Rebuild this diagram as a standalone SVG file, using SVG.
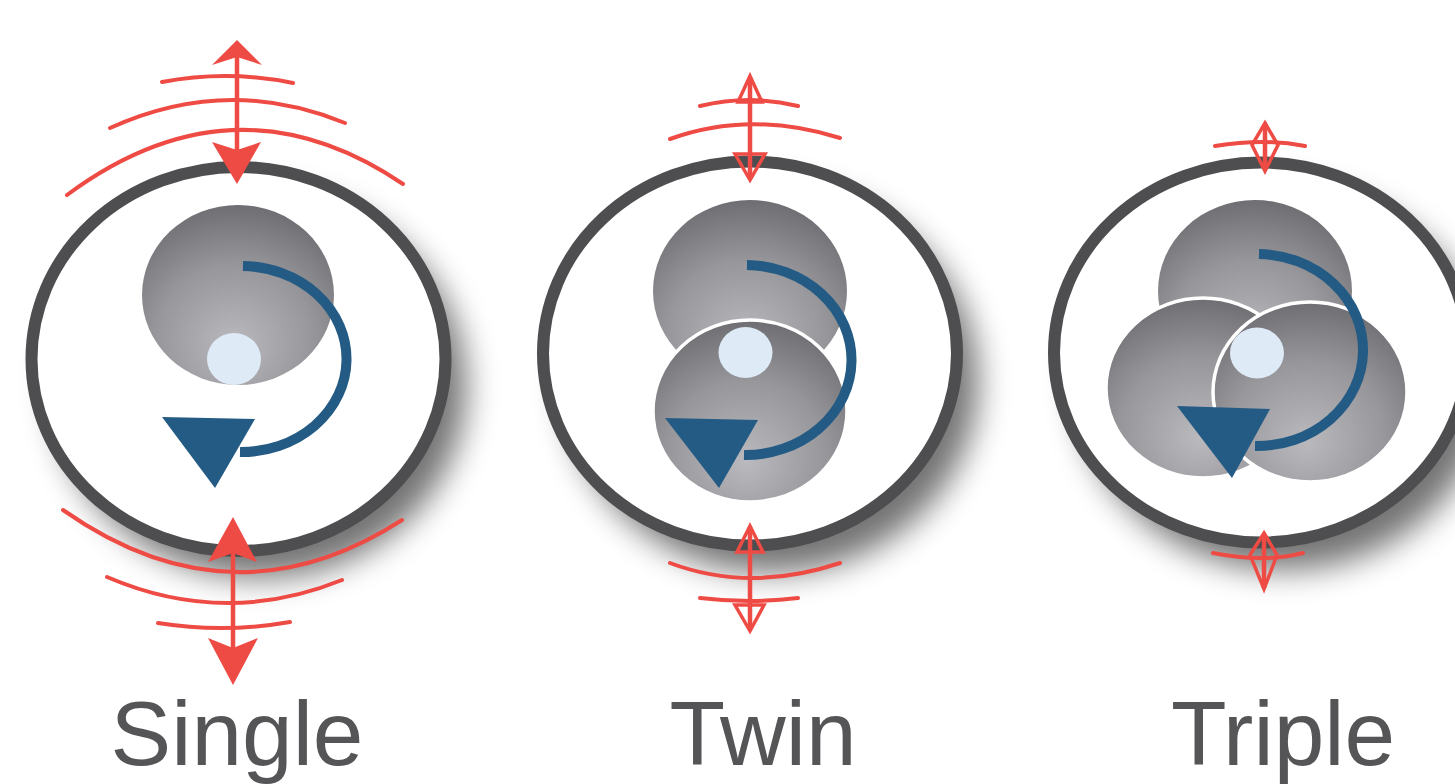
<svg xmlns="http://www.w3.org/2000/svg" width="1455" height="784" viewBox="0 0 1455 784">
<defs>
<radialGradient id="disk" cx="0.48" cy="0.72" r="0.75" fx="0.48" fy="0.78">
<stop offset="0" stop-color="#b9b9be"/>
<stop offset="0.55" stop-color="#96969b"/>
<stop offset="1" stop-color="#6a6a6f"/>
</radialGradient>
<filter id="shadow" x="-30%" y="-30%" width="170%" height="170%">
<feGaussianBlur stdDeviation="16"/>
</filter>
</defs>
<style>
.ring{fill:#fff;stroke:#4e4e50;stroke-width:12}
.shadow{fill:#000;opacity:0.55;filter:url(#shadow)}
.disk{fill:url(#disk)}
.diskw{fill:url(#disk);stroke:#fff;stroke-width:3.5}
.dot{fill:#deeaf6}
.rot{fill:none;stroke:#245b84;stroke-width:10}
.tri{fill:#245b84}
.wave{fill:none;stroke:#ef4b45;stroke-width:4;stroke-linecap:round}
.shaft{stroke:#ef4b45;stroke-width:4.5}
.head{fill:#ef4b45}
.hhead{fill:none;stroke:#ef4b45;stroke-width:3.5;stroke-linejoin:miter}
.label{font-family:"Liberation Sans",Arial,sans-serif;font-size:91px;fill:#555558;text-anchor:middle}
</style>

<g id="single">
<ellipse class="shadow" cx="260" cy="386" rx="206" ry="192"/>
<ellipse class="ring" cx="238.5" cy="359" rx="207" ry="192"/>
<ellipse class="disk" cx="238" cy="295" rx="96" ry="90"/>
<ellipse class="dot" cx="234" cy="359" rx="27" ry="26"/>
<path class="rot" d="M 243 266 A 105 93 0 0 1 240 452"/>
<polygon class="tri" points="162,417 255,419 215,488"/>
<text class="label" x="237" y="765">Single</text>
</g>

<g id="twin">
<ellipse class="shadow" cx="772" cy="381" rx="206" ry="192"/>
<ellipse class="ring" cx="750" cy="353.5" rx="207" ry="192"/>
<ellipse class="disk" cx="750" cy="291" rx="97" ry="91"/>
<ellipse class="diskw" cx="750" cy="411" rx="97" ry="91"/>
<ellipse class="dot" cx="745.5" cy="352.5" rx="27" ry="25.5"/>
<path class="rot" d="M 747 265 A 106 95 0 0 1 744 455"/>
<polygon class="tri" points="665,418 758,420 719,488"/>
<text class="label" x="763" y="765">Twin</text>
</g>

<g id="triple">
<ellipse class="shadow" cx="1283" cy="380" rx="206" ry="190"/>
<ellipse class="ring" cx="1261" cy="352.5" rx="207" ry="190"/>
<ellipse class="disk" cx="1255" cy="291" rx="97" ry="91"/>
<ellipse class="diskw" cx="1203" cy="388" rx="97" ry="90"/>
<ellipse class="diskw" cx="1310" cy="392" rx="97" ry="90"/>
<ellipse class="dot" cx="1257" cy="353" rx="27" ry="25.5"/>
<path class="rot" d="M 1259 254 A 106 96 0 0 1 1255 446"/>
<polygon class="tri" points="1177,406 1270,409 1232,478"/>
<text class="label" x="1283" y="765">Triple</text>
</g>

<g id="connectors">
<path class="wave" d="M 162 82 Q 227.5 69.5 293 83"/>
<path class="wave" d="M 110 128 Q 227.5 74.5 345 123"/>
<path class="wave" d="M 67 195 Q 235 70.5 403 184"/>
<line class="shaft" x1="237" y1="56" x2="237" y2="151"/>
<polygon class="head" points="237,40 262,65 237,57 212,65"/>
<polygon class="head" points="237,184 212,142 237,150 261,142"/>
<path class="wave" d="M 63 510 Q 232.5 629 402 520"/>
<path class="wave" d="M 107 577 Q 224.5 627.5 342 580"/>
<path class="wave" d="M 158 623 Q 224 633.5 290 622"/>
<line class="shaft" x1="233" y1="553" x2="233" y2="648"/>
<polygon class="head" points="233,517 257,562 233,553 208,562"/>
<polygon class="head" points="233,685 208,638 233,648 258,638"/>
<path class="wave" d="M 700 106 Q 750 94 798 106"/>
<path class="wave" d="M 670 139 Q 750 110 840 138"/>
<line class="shaft" x1="750" y1="77" x2="750" y2="179"/>
<polygon class="hhead" points="750,76 762,102 738,102"/>
<polygon class="hhead" points="750,180 735,154 765,154"/>
<path class="wave" d="M 670 563 Q 750 593 840 563"/>
<path class="wave" d="M 700 598 Q 750 604 798 598"/>
<line class="shaft" x1="750" y1="527" x2="750" y2="630"/>
<polygon class="hhead" points="750,526 763,552 737,552"/>
<polygon class="hhead" points="750,631 735,605 764,605"/>
<path class="wave" d="M 1215 146 Q 1265 138 1305 146"/>
<line class="shaft" x1="1265" y1="124" x2="1265" y2="170"/>
<polygon class="hhead" points="1265,123 1278,145 1265,171 1252,145"/>
<path class="wave" d="M 1213 553 Q 1264 563 1303 553"/>
<line class="shaft" x1="1264" y1="534" x2="1264" y2="588"/>
<polygon class="hhead" points="1264,533 1277,555 1264,589 1250,555"/>
</g>
</svg>
